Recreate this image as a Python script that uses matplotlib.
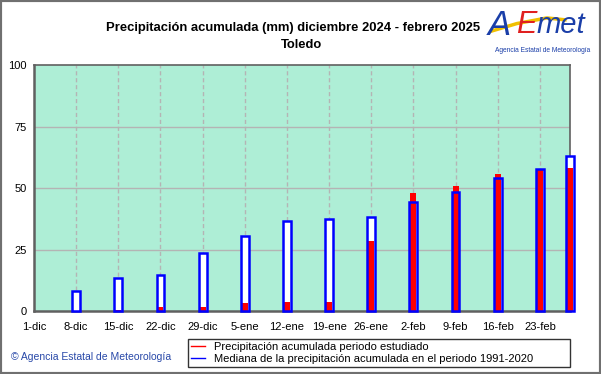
import numpy as np
import pandas as pd
import matplotlib
matplotlib.use('Agg')
import matplotlib.pyplot as plt
from matplotlib.lines import Line2D
from matplotlib.patches import Rectangle

plt.rcParams['font.family'] = ['Liberation Sans', 'DejaVu Sans']

# Datos
fechas = ['2024-12-01', '2024-12-08', '2024-12-15', '2024-12-22', '2024-12-29',
          '2025-01-05', '2025-01-12', '2025-01-19', '2025-01-26', '2025-02-02',
          '2025-02-09', '2025-02-16', '2025-02-23', '2025-02-28']
mediana = [0, 8.0, 13.3, 14.6, 23.4, 30.4, 36.5, 37.4, 38.1, 44.2, 48.2, 54.2, 57.8, 63.0]
acumulada = [0, 0, 0.3, 1.6, 1.6, 3.3, 3.8, 3.8, 28.3, 47.8, 50.8, 55.8, 57.8, 58.0]
etiquetas = ['1-dic', '8-dic', '15-dic', '22-dic', '29-dic', '5-ene', '12-ene',
             '19-ene', '26-ene', '2-feb', '9-feb', '16-feb', '23-feb']
yticks = [0, 25, 50, 75, 100]

fechas = pd.to_datetime(fechas)
dias = np.array((fechas - fechas[0]).days)

fig = plt.figure(figsize=(6.01, 3.74), dpi=100)
ax = fig.add_axes([0.0566, 0.1684, 0.8918, 0.6576])
ax.set_facecolor('#aeeed6')

# Mediana: barra blanca con borde azul, acumulada en rojo encima
bordes = ['#0000ff' if v > 0 else 'none' for v in mediana]
ax.bar(dias, mediana, width=1.3, color='white', edgecolor='none', zorder=3, clip_on=False)
ax.bar(dias, acumulada, width=1.0, color='#ff0000', edgecolor='none', zorder=4, clip_on=False)
ax.bar(dias, mediana, width=1.3, fill=False, edgecolor=bordes, linewidth=1.8,
       zorder=5, clip_on=False)

ax.set_xlim(0, dias[-1])
ax.set_ylim(0, 100)
ax.set_xticks(dias[:len(etiquetas)])
ax.set_xticklabels(etiquetas, fontsize=8)
ax.set_yticks(yticks)
ax.set_yticklabels([str(v) for v in yticks], fontsize=8)
ax.tick_params(axis='x', length=0, pad=8)
ax.tick_params(axis='y', length=0, pad=5)

for v in yticks[1:-1]:
    ax.axhline(v, color='#b4b4b4', linewidth=1, zorder=1)
for d in dias[1:len(etiquetas)]:
    ax.axvline(d, color='#b4b4b4', linewidth=1, linestyle=(0, (3, 2)), zorder=1)

for s in ax.spines.values():
    s.set_color('#606060')
    s.set_linewidth(1.2)
ax.spines['left'].set_linewidth(1.8)
ax.spines['bottom'].set_linewidth(1.8)

fig.text(0.488, 0.925, 'Precipitación acumulada (mm) diciembre 2024 - febrero 2025',
         ha='center', va='center', fontsize=9.4, fontweight='bold')
fig.text(0.502, 0.879, 'Toledo', ha='center', va='center', fontsize=9.4, fontweight='bold')

# Logo aproximado
fig.text(0.812, 0.932, 'A', color='#1a3ea8', fontsize=25, style='italic', ha='left', va='center')
fig.text(0.858, 0.932, 'E', color='#e02020', fontsize=22, style='italic', ha='left', va='center')
fig.text(0.893, 0.932, 'met', color='#1a3ea8', fontsize=21, style='italic', ha='left', va='center')
fig.add_artist(Line2D([0.818, 0.86, 0.91, 0.94], [0.917, 0.937, 0.952, 0.947],
                      transform=fig.transFigure, color='#f0c000', linewidth=2.5))
fig.text(0.903, 0.866, 'Agencia Estatal de Meteorología', color='#1a3ea8', fontsize=4.8,
         ha='center', va='center')

fig.text(0.018, 0.045, '© Agencia Estatal de Meteorología', color='#2848a8', fontsize=7.5,
         ha='left', va='center')

handles = [Line2D([], [], color='#ff0000', linewidth=1),
           Line2D([], [], color='#0000ff', linewidth=1)]
leg = fig.legend(handles, ['Precipitación acumulada periodo estudiado',
                           'Mediana de la precipitación acumulada en el periodo 1991-2020'],
                 loc='lower left', bbox_to_anchor=(0.313, 0.019, 0.635, 0.088), mode='expand',
                 fontsize=8, frameon=True, fancybox=False, edgecolor='black',
                 handlelength=1.2, handletextpad=0.8, labelspacing=0.15,
                 borderpad=0.3, borderaxespad=0)
leg.get_frame().set_linewidth(1)

fig.add_artist(Rectangle((0, 0), 1, 1, transform=fig.transFigure, fill=False,
                         edgecolor='#707070', linewidth=3))

fig.savefig('out.png', dpi=100, facecolor='white')
